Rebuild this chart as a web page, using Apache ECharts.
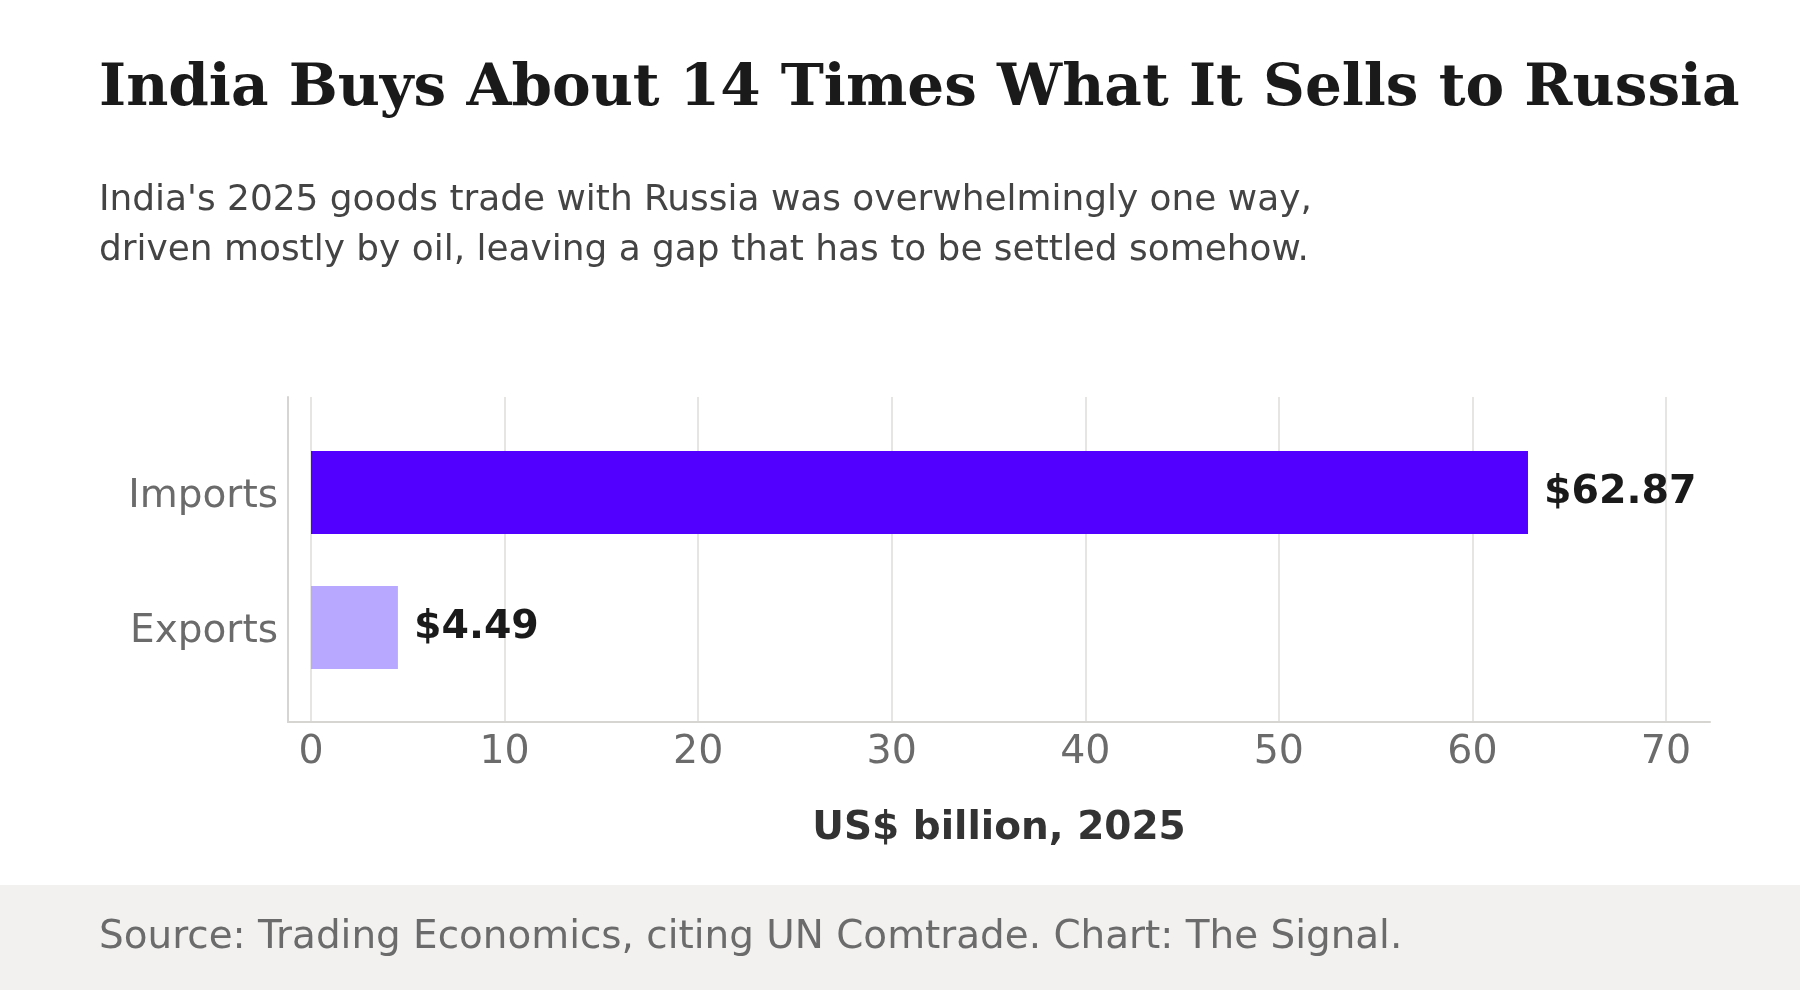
<!DOCTYPE html>
<html>
<head>
<meta charset="utf-8">
<style>
  html, body { margin: 0; padding: 0; background: #ffffff; }
  #chart { width: 1800px; height: 990px; }
</style>
<script src="https://cdn.jsdelivr.net/npm/echarts@6/dist/echarts.min.js"></script>
</head>
<body>
<div id="chart"></div>
<script>
// data
const categories = ['Exports', 'Imports'];
const values = [4.49, 62.87];
const barColors = ['#b8a8ff', '#5200ff'];
const xTicks = { min: 0, max: 70, step: 10 };

const SANS = '"DejaVu Sans", sans-serif';
const SERIF = '"DejaVu Serif", serif';

const chart = echarts.init(document.getElementById('chart'), null, { renderer: 'canvas' });

const option = {
  backgroundColor: '#ffffff',
  animation: false,
  graphic: [
    {
      type: 'rect',
      shape: { x: 0, y: 885, width: 1800, height: 105 },
      style: { fill: '#f2f1f0' },
      silent: true
    },
    {
      type: 'text', left: 99, top: 61,
      style: {
        text: 'India Buys About 14 Times What It Sells to Russia',
        font: 'bold 58px ' + SERIF, fill: '#1a1a1a'
      }
    },
    {
      type: 'text', left: 99, top: 175,
      style: {
        text: "India's 2025 goods trade with Russia was overwhelmingly one way,\ndriven mostly by oil, leaving a gap that has to be settled somehow.",
        font: '35.9px ' + SANS, fill: '#444444', lineHeight: 50.5
      }
    },
    {
      type: 'text', left: 99, top: 918,
      style: {
        text: 'Source: Trading Economics, citing UN Comtrade. Chart: The Signal.',
        font: '38.9px ' + SANS, fill: '#6b6b6b'
      }
    }
  ],
  grid: [
    // frame: axis lines
    { left: 288, right: 90, top: 397, bottom: 268 },
    // split lines and tick labels
    { left: 311, width: 1355, top: 397, bottom: 268 },
    // bars
    { left: 311, width: 1355, top: 425, height: 270 }
  ],
  xAxis: [
    {
      gridIndex: 0, type: 'value', min: -1.19, max: 72.28,
      axisLine: { show: true, onZero: false, lineStyle: { color: '#d6d5d1', width: 2 } },
      axisTick: { show: false }, axisLabel: { show: false }, splitLine: { show: false },
      name: 'US$ billion, 2025', nameLocation: 'middle', nameGap: 87,
      nameTextStyle: { fontFamily: SANS, fontSize: 39, fontWeight: 'bold', color: '#333333' }
    },
    {
      gridIndex: 1, type: 'value', min: xTicks.min, max: xTicks.max, interval: xTicks.step,
      axisLine: { show: false }, axisTick: { show: false },
      axisLabel: { fontFamily: SANS, fontSize: 39.5, color: '#6b6b6b', margin: 11 },
      splitLine: { show: true, lineStyle: { color: '#e6e5e2', width: 2 } }
    },
    {
      gridIndex: 2, type: 'value', min: xTicks.min, max: xTicks.max, show: false
    }
  ],
  yAxis: [
    {
      gridIndex: 0, type: 'value',
      axisLine: { show: true, onZero: false, lineStyle: { color: '#d6d5d1', width: 2 } },
      axisTick: { show: false }, axisLabel: { show: false }, splitLine: { show: false }
    },
    { gridIndex: 1, type: 'value', show: false },
    {
      gridIndex: 2, type: 'category', data: categories,
      axisLine: { show: false }, axisTick: { show: false },
      axisLabel: {
        fontFamily: SANS, fontSize: 39, color: '#6b6b6b', margin: 33,
        verticalAlign: 'top', lineHeight: 8
      }
    }
  ],
  series: [
    {
      type: 'bar', xAxisIndex: 2, yAxisIndex: 2,
      barWidth: 83,
      data: values.map((v, i) => ({ value: v, itemStyle: { color: barColors[i] } })),
      label: {
        show: true, position: 'right', distance: 16,
        formatter: p => '$' + p.value.toFixed(2),
        fontFamily: SANS, fontSize: 39.5, fontWeight: 'bold', color: '#1a1a1a'
      }
    }
  ]
};

chart.setOption(option);
</script>
</body>
</html>
